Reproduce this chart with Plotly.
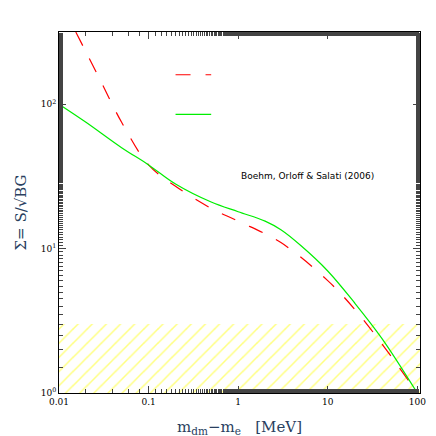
import plotly.graph_objects as go

red_x = [0.0154, 0.02, 0.03, 0.05, 0.1, 0.2, 0.5, 1, 3, 10, 20, 40, 100]
red_y = [316, 230, 140, 75, 38, 27, 19, 15.5, 11, 6, 3.8, 2.2, 1.0]
green_x = [0.01, 0.02, 0.05, 0.1, 0.2, 0.5, 1, 2, 3, 5, 10, 20, 40, 100]
green_y = [100, 75, 50, 38, 28, 21, 18, 15.5, 13.5, 10.5, 7, 4.2, 2.4, 1.0]
band_x = [0.01, 110]
band_y = [1, 3]
xticks = [0.01, 0.1, 1, 10, 100]
xlabels = ["0.01", "0.1", "1", "10", "100"]
yticks = [1, 10, 100]
ylabels = ["10<sup>0</sup>", "10<sup>1</sup>", "10<sup>2</sup>"]

fig = go.Figure()
fig.add_trace(go.Scatter(
    x=[band_x[0], band_x[1], band_x[1], band_x[0], band_x[0]],
    y=[band_y[0], band_y[0], band_y[1], band_y[1], band_y[0]],
    fill="toself", mode="lines", line=dict(width=0),
    fillcolor="rgba(0,0,0,0)",
    fillpattern=dict(shape="/", fgcolor="#ffff00", bgcolor="white", size=10, solidity=0.15),
    showlegend=False, hoverinfo="skip"))
fig.add_trace(go.Scatter(x=red_x, y=red_y, mode="lines", line=dict(color="red", dash="longdash", width=1.2, shape="spline"), showlegend=False))
fig.add_trace(go.Scatter(x=green_x, y=green_y, mode="lines", line=dict(color="#00ee00", width=1.2, shape="spline"), showlegend=False))
# legend samples
fig.add_trace(go.Scatter(x=[0.2, 0.5], y=[160, 160], mode="lines", line=dict(color="red", dash="longdash", width=1.2), showlegend=False))
fig.add_trace(go.Scatter(x=[0.2, 0.5], y=[85, 85], mode="lines", line=dict(color="#00ee00", width=1.2), showlegend=False))

fig.add_annotation(x=0.7, y=160, xref="x", yref="y", text="b=0 (scalar)", showarrow=False, xanchor="left",
                   font=dict(family="Liberation Mono", size=14, color="red"))
fig.add_annotation(x=0.7, y=85, xref="x", yref="y", text="a=0  (axial)", showarrow=False, xanchor="left",
                   font=dict(family="Liberation Mono", size=14, color="#00ee00"))
fig.add_annotation(x=0.0125, y=1.5, xref="x", yref="y", text="Boehm, Orloff & Salati (2006)", showarrow=False, xanchor="left",
                   font=dict(family="DejaVu Sans", size=9, color="black"))

axis_common = dict(type="log", showgrid=False, zeroline=False, ticks="inside", mirror="allticks",
                   showline=True, linecolor="black", linewidth=1, ticklen=7,
                   minor=dict(ticks="inside", ticklen=4, showgrid=False),
                   tickfont=dict(family="DejaVu Serif", size=9, color="black"))
fig.update_xaxes(range=[-2, 2.03], tickvals=xticks, ticktext=xlabels,
                 title=dict(text="m<sub>dm</sub>−m<sub>e</sub>   [MeV]", font=dict(family="DejaVu Serif", size=15)), **axis_common)
fig.update_yaxes(range=[0, 2.5], tickvals=yticks, ticktext=ylabels,
                 title=dict(text="Σ= S/√BG", font=dict(family="DejaVu Serif", size=15), standoff=10), **axis_common)
fig.update_layout(width=436, height=436, plot_bgcolor="white", paper_bgcolor="white",
                  margin=dict(l=48, r=24, t=24, b=48))
fig.write_html("out.html")
